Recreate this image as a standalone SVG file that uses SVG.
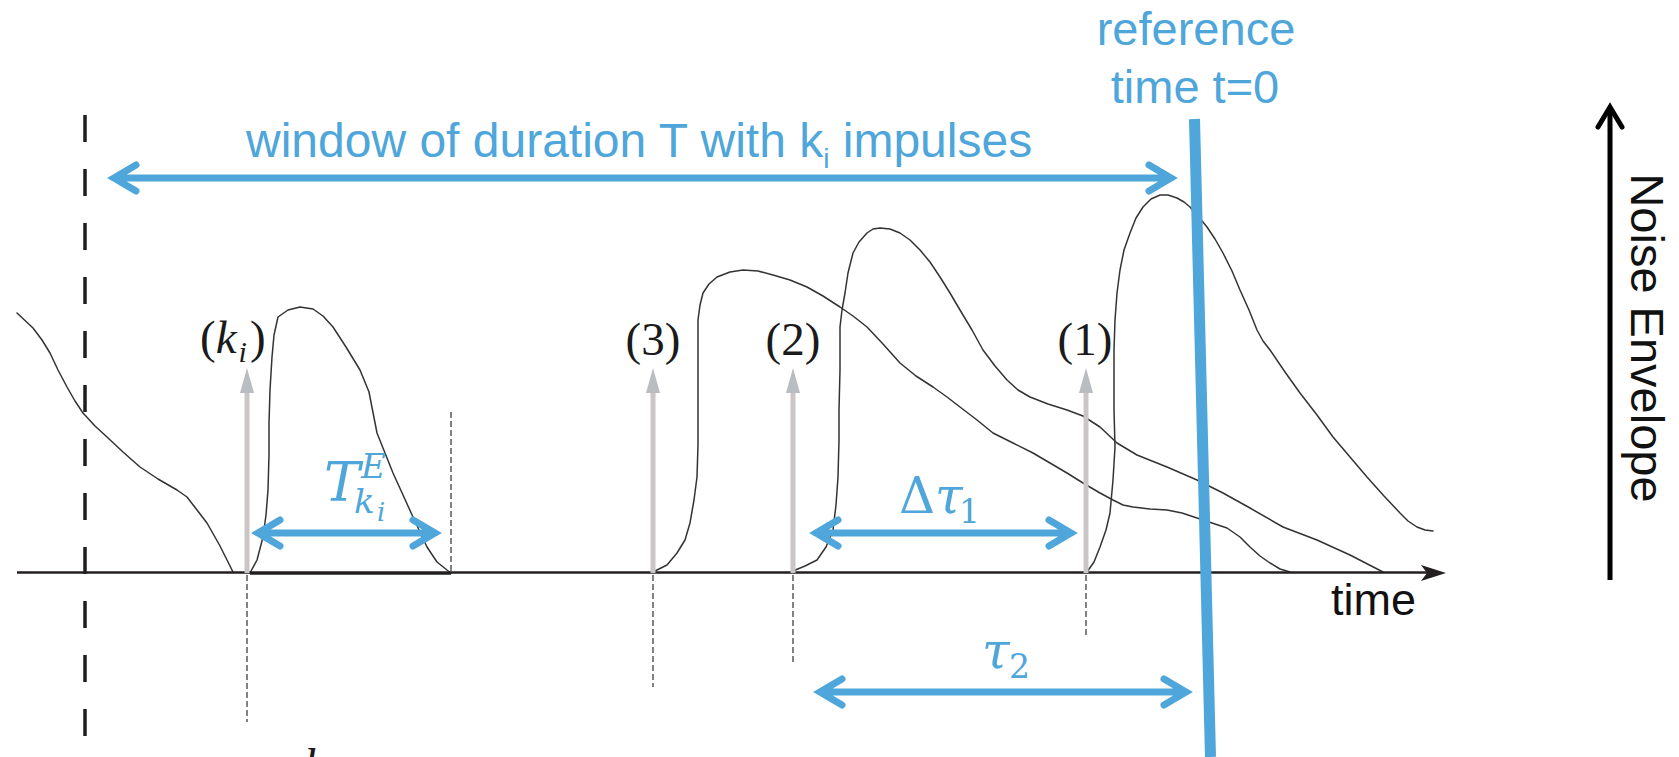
<svg xmlns="http://www.w3.org/2000/svg" width="1679" height="757" viewBox="0 0 1679 757">
<style>
.bg{fill:#ffffff}
.axis{stroke:#231f20;stroke-width:2.6;fill:none}
.curve{stroke:#333333;stroke-width:1.5;fill:none;stroke-linejoin:round;stroke-linecap:round}
.bigdash{stroke:#1e1e1e;stroke-width:3.5;stroke-dasharray:27 27;fill:none}
.thindash{stroke:#4d4d4d;stroke-width:1.4;stroke-dasharray:6 3;fill:none}
.shaft{stroke:#cac6c6;stroke-width:5;fill:none}
.head{fill:#b9bcc1}
.blue{stroke:#4ea6da;stroke-width:7;fill:none;stroke-linecap:round;stroke-linejoin:miter}
.refline{stroke:#4ea6da;stroke-width:11;fill:none}
.btxt{fill:#4ea6da;font-family:"Liberation Sans",Arial,sans-serif}
.ktxt{fill:#111111;font-family:"Liberation Sans",Arial,sans-serif}
.cm{fill:#1a1a1a;font-family:"Liberation Serif","Times New Roman",serif}
.math{fill:#4ea6da;font-family:"DejaVu Serif",serif}
</style>
<rect class="bg" x="0" y="0" width="1679" height="757"/>

<g id="window-boundary">
<line class="bigdash" x1="85" y1="115" x2="85" y2="757"/>
</g>

<g id="envelopes">
<polyline class="curve" points="17,313 33,328 42,340 50,353 58,370 67,387 75,401 83,413 95,426 107,437 123,452 140,467 158,479 177,490 187,497 197,510 207,523 220,546 233,572"/>
<polyline class="curve" points="250,573 257,560 263,537 266,515 268,490 269,455 269,423 270,390 272,357 274,335 278,317 288,310 300,307 313,309 323,316 333,327 346,347 360,370 369,392 377,433 385,453 393,473 403,495 413,517 420,532 427,547 437,562 447,570 451,573"/>
<polyline class="curve" points="655,571 667,565 677,553 685,540 690,523 694,500 697,477 698,445 698,410 698,365 698,320 700,305 703,293 709,284 717,277 730,272 743,270 758,271 773,275 790,280 807,287 823,296 840,307 853,316 867,327 883,344 900,363 916,376 933,387 947,397 960,407 977,420 993,433 1013,443 1033,453 1050,463 1067,473 1083,483 1100,493 1113,500 1123,505 1133,507 1150,509 1167,510 1182,513 1197,518 1212,523 1227,528 1240,537 1250,547 1260,556 1270,563 1280,569 1290,572"/>
<polyline class="curve" points="793,571 805,566 817,560 826,547 833,530 836,505 838,477 839,440 839,410 840,370 840,327 842,310 845,293 848,273 853,253 859,242 867,233 873,229 880,228 890,229 900,233 910,240 920,250 930,262 940,277 950,293 960,310 972,330 983,350 995,366 1007,380 1018,390 1030,397 1048,404 1067,410 1083,416 1100,427 1117,443 1137,455 1152,461 1167,467 1197,480 1223,493 1250,508 1283,527 1317,540 1350,555 1383,572"/>
<polyline class="curve" points="1087,572 1094,562 1100,547 1106,530 1110,513 1113,480 1115,447 1114,410 1114,380 1114,350 1115,320 1117,293 1120,270 1124,250 1130,233 1136,218 1143,207 1151,199 1160,195 1168,195 1177,198 1184,202 1190,207 1198,216 1207,227 1215,239 1223,253 1232,271 1240,290 1249,310 1257,330 1263,341 1270,350 1285,372 1300,393 1317,415 1333,437 1350,457 1367,477 1384,496 1400,513 1408,521 1417,527 1425,530 1433,531"/>
</g>

<g id="time-axis">
<line class="axis" x1="17" y1="572.5" x2="1430" y2="572.5"/>
<line class="axis" x1="250" y1="573.5" x2="451" y2="573.5"/>
<polygon points="1446,573 1421,565 1427,573 1421,581" fill="#231f20"/>
<text class="ktxt" x="1331" y="615" font-size="45">time</text>
</g>

<g id="guides">
<line class="thindash" x1="247" y1="575" x2="247" y2="722"/>
<line class="thindash" x1="451" y1="412" x2="451" y2="573"/>
<line class="thindash" x1="653" y1="575" x2="653" y2="687"/>
<line class="thindash" x1="793" y1="575" x2="793" y2="663"/>
<line class="thindash" x1="1086" y1="575" x2="1086" y2="635"/>
</g>

<g id="impulse-k">
<line class="shaft" x1="247" y1="573" x2="247" y2="388"/>
<polygon class="head" points="247,368 240,393 254,393"/>
<text class="cm" x="200" y="353" font-size="47">(<tspan font-style="italic">k</tspan><tspan font-style="italic" font-size="30" dx="2" dy="9">i</tspan><tspan dx="3" dy="-9">)</tspan></text>
</g>

<g id="impulse-3">
<line class="shaft" x1="653" y1="573" x2="653" y2="388"/>
<polygon class="head" points="653,368 646,393 660,393"/>
<text class="cm" x="653" y="355" font-size="47" text-anchor="middle">(3)</text>
</g>

<g id="impulse-2">
<line class="shaft" x1="793" y1="573" x2="793" y2="388"/>
<polygon class="head" points="793,368 786,393 800,393"/>
<text class="cm" x="793" y="355" font-size="47" text-anchor="middle">(2)</text>
</g>

<g id="impulse-1">
<line class="shaft" x1="1086" y1="573" x2="1086" y2="388"/>
<polygon class="head" points="1086,368 1079,393 1093,393"/>
<text class="cm" x="1085" y="355" font-size="47" text-anchor="middle">(1)</text>
</g>

<g id="connectors">
<path class="blue" d="M114,178 H1171 M136,165 L114,178 L136,191 M1149,165 L1171,178 L1149,191"/>
<path class="blue" d="M258,533 H435 M280,520 L258,533 L280,546 M413,520 L435,533 L413,546"/>
<path class="blue" d="M816,533 H1071 M838,520 L816,533 L838,546 M1049,520 L1071,533 L1049,546"/>
<path class="blue" d="M820,692 H1186 M842,679 L820,692 L842,705 M1164,679 L1186,692 L1164,705"/>
</g>

<g id="window-label">
<text class="btxt" x="246" y="157" font-size="48">window of duration T with k<tspan font-size="28" dy="11">i</tspan><tspan dy="-11"> impulses</tspan></text>
</g>

<g id="reference-time">
<line class="refline" x1="1194.5" y1="119" x2="1210.5" y2="757"/>
<text class="btxt" x="1196" y="45" font-size="47" text-anchor="middle">reference</text>
<text class="btxt" x="1195" y="103" font-size="47" text-anchor="middle">time t=0</text>
</g>

<g id="label-TE">
<text class="math" font-style="italic"><tspan x="324" y="501" font-size="54">T</tspan><tspan x="361" y="478" font-size="34">E</tspan><tspan x="354" y="513" font-size="34">k</tspan><tspan x="377" y="521" font-size="26">i</tspan></text>
</g>

<g id="label-dtau1">
<text class="math"><tspan x="899" y="513" font-size="50">Δ</tspan><tspan font-size="50" font-style="italic">τ</tspan><tspan x="959" y="523" font-size="33">1</tspan></text>
</g>

<g id="label-tau2">
<text class="math"><tspan x="982" y="668" font-size="50" font-style="italic">τ</tspan><tspan x="1009" y="678" font-size="33">2</tspan></text>
</g>

<g id="noise-axis">
<line x1="1610" y1="580" x2="1610" y2="108" stroke="#000000" stroke-width="5"/>
<polyline points="1598,127 1610,107 1622,127" fill="none" stroke="#000000" stroke-width="5" stroke-linecap="round"/>
<text class="ktxt" x="1631" y="338" font-size="47" text-anchor="middle" transform="rotate(90 1631 338)" fill="#000000">Noise Envelope</text>
</g>

<g id="cut-glyph">
<text class="cm" x="303" y="782" font-size="48" font-style="italic" fill="#000000">l</text>
</g>
</svg>
